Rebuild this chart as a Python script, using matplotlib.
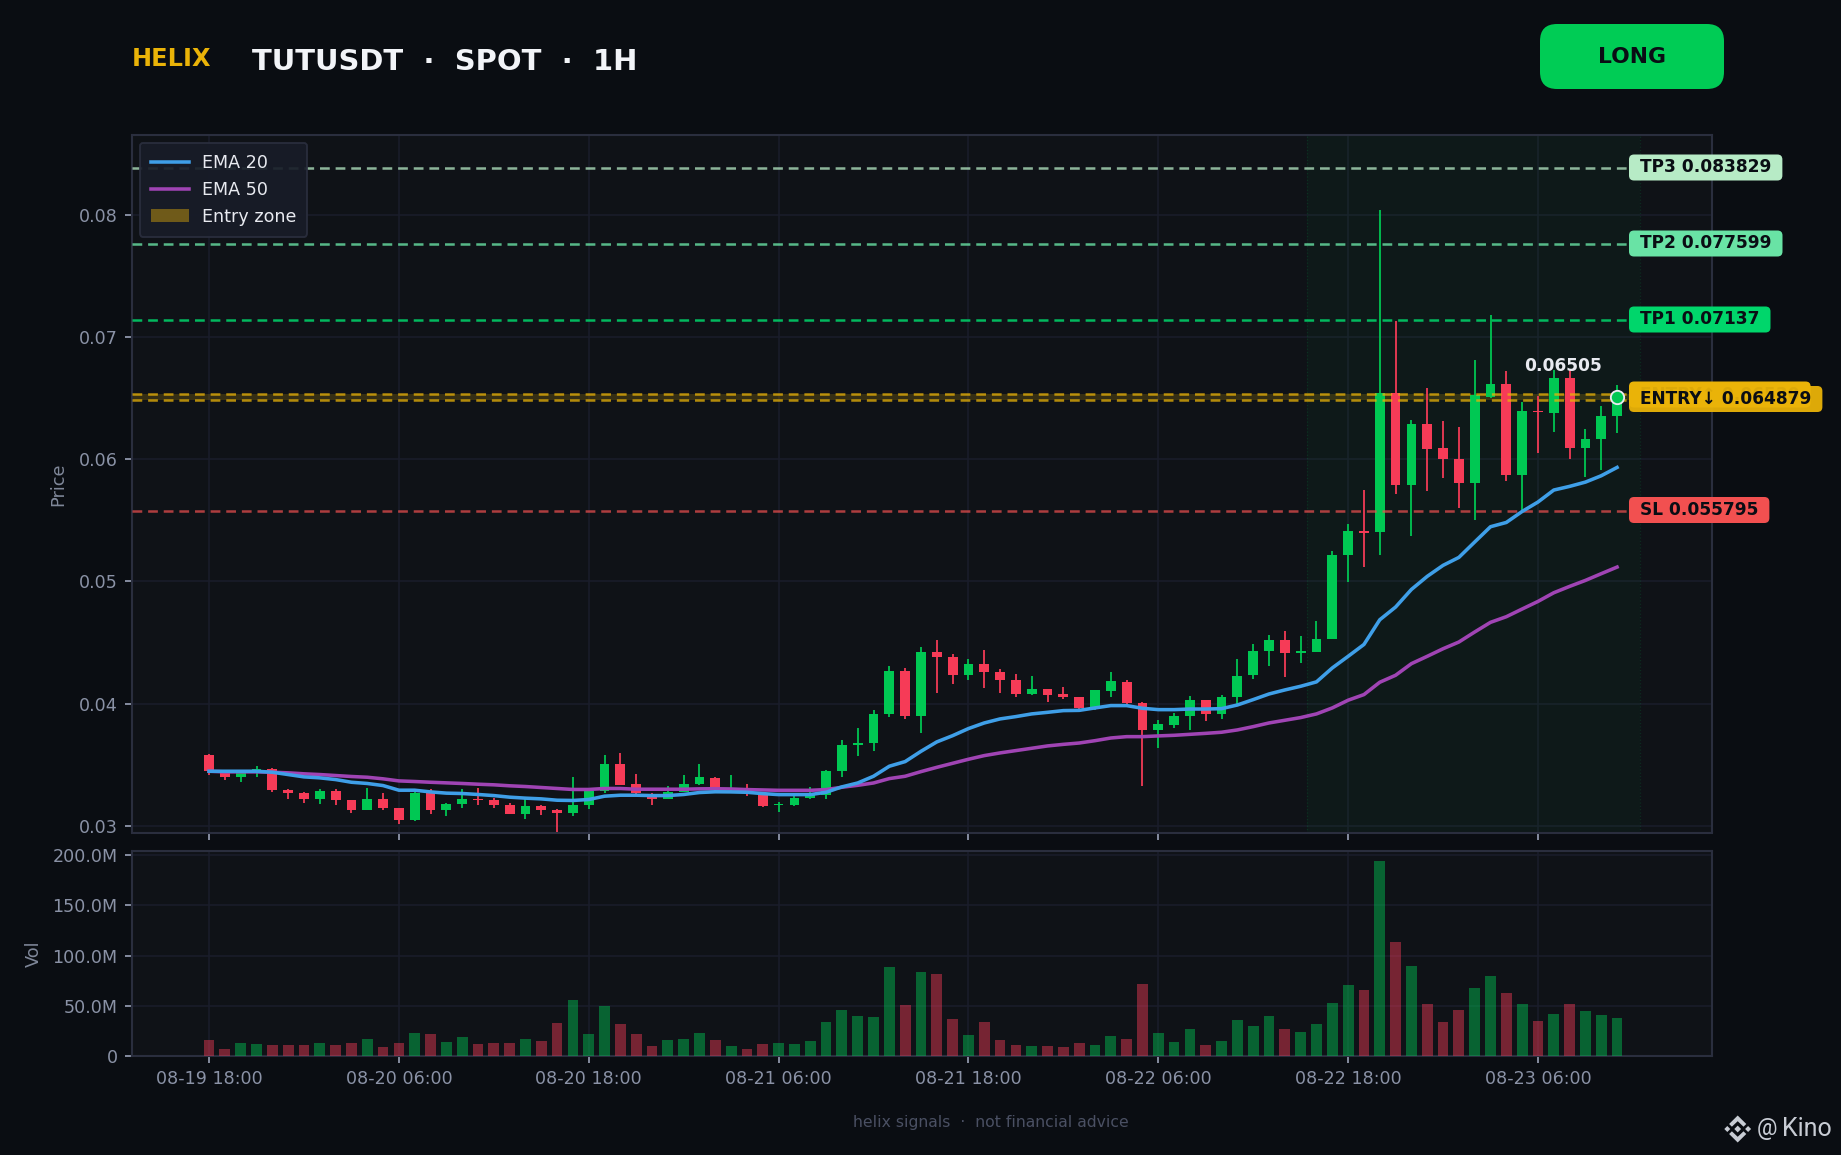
import matplotlib
matplotlib.use("Agg")
import numpy as np
import matplotlib.pyplot as plt
from matplotlib.patches import FancyBboxPatch, Polygon, Patch
from matplotlib.lines import Line2D
from matplotlib.transforms import IdentityTransform
from matplotlib.ticker import FuncFormatter

W, H = 1841, 1155
DPI = 150

opens = [.03577,.03443,.03397,.03440,.03470,.03293,.03266,.03217,.03290,.03209,
         .03127,.03217,.03151,.03053,.03274,.03127,.03184,.03217,.03209,.03176,
         .03102,.03160,.03135,.03110,.03176,.03290,.03511,.03347,.03250,.03225,
         .03282,.03347,.03396,.03296,.03298,.03265,.03170,.03175,.03232,.03257,
         .03453,.03666,.03682,.03919,.04271,.03903,.04426,.04385,.04238,.04328,
         .04263,.04197,.04083,.04124,.04083,.04058,.03968,.04107,.04181,.04009,
         .03788,.03829,.03903,.04034,.03920,.04059,.04238,.04435,.04525,.04418,
         .04427,.04533,.05219,.05415,.05407,.06544,.05791,.06290,.06094,.06004,
         .05808,.06511,.06617,.05873,.06397,.06380,.06667,.06094,.06168,.06356]
highs = [.03593,.03448,.03443,.03495,.03475,.03299,.03282,.03299,.03299,.03209,
         .03307,.03266,.03151,.03282,.03299,.03192,.03299,.03307,.03233,.03192,
         .03217,.03168,.03143,.03405,.03312,.03577,.03601,.03429,.03274,.03331,
         .03421,.03511,.03405,.03420,.03347,.03270,.03200,.03249,.03322,.03461,
         .03707,.03805,.03952,.04312,.04295,.04467,.04524,.04410,.04369,.04443,
         .04287,.04246,.04230,.04124,.04140,.04058,.04116,.04263,.04197,.04017,
         .03870,.03927,.04066,.04034,.04075,.04369,.04492,.04566,.04598,.04557,
         .04680,.05252,.05472,.05751,.08040,.07133,.06323,.06585,.06315,.06266,
         .06814,.07182,.06724,.06470,.06519,.06732,.06732,.06249,.06438,.06609]
lows = [.03416,.03375,.03358,.03399,.03277,.03217,.03192,.03184,.03176,.03110,
        .03127,.03127,.03020,.03045,.03102,.03078,.03151,.03176,.03151,.03102,
        .03061,.03094,.02950,.03078,.03143,.03274,.03339,.03250,.03176,.03217,
        .03282,.03339,.03287,.03268,.03249,.03159,.03118,.03167,.03224,.03224,
        .03404,.03576,.03617,.03895,.03878,.03764,.04091,.04165,.04197,.04132,
        .04091,.04058,.04075,.04017,.04042,.03952,.03952,.04058,.03985,.03330,
        .03641,.03805,.03788,.03862,.03879,.03993,.04206,.04312,.04222,.04337,
        .04427,.04532,.04998,.05121,.05219,.05718,.05374,.05742,.05849,.05603,
        .05505,.06503,.05824,.05587,.06053,.06225,.06004,.05857,.05914,.06217]
closes = [.03448,.03397,.03435,.03470,.03293,.03266,.03217,.03290,.03209,.03127,
          .03217,.03151,.03053,.03274,.03127,.03184,.03217,.03209,.03176,.03102,
          .03160,.03135,.03110,.03176,.03290,.03511,.03339,.03266,.03225,.03282,
          .03347,.03397,.03298,.03304,.03290,.03167,.03178,.03232,.03250,.03453,
          .03666,.03682,.03919,.04271,.03903,.04426,.04385,.04238,.04328,.04263,
          .04197,.04083,.04124,.04075,.04058,.03968,.04116,.04189,.04009,.03788,
          .03837,.03903,.04034,.03919,.04059,.04230,.04435,.04525,.04418,.04435,
          .04533,.05219,.05415,.05399,.06544,.05791,.06290,.06086,.06004,.05808,
          .06527,.06617,.05873,.06397,.06388,.06667,.06094,.06168,.06356,.06505]
ema20 = [.03448,.03448,.03448,.03448,.03440,.03421,.03402,.03394,.03380,.03358,
         .03348,.03331,.03293,.03293,.03279,.03269,.03266,.03258,.03249,.03236,
         .03228,.03222,.03211,.03209,.03217,.03244,.03252,.03252,.03249,.03249,
         .03258,.03274,.03280,.03279,.03276,.03265,.03257,.03257,.03257,.03276,
         .03320,.03352,.03407,.03489,.03527,.03611,.03688,.03739,.03797,.03843,
         .03876,.03895,.03917,.03930,.03944,.03946,.03966,.03985,.03985,.03963,
         .03952,.03952,.03957,.03957,.03960,.03990,.04034,.04080,.04113,.04143,
         .04179,.04293,.04388,.04485,.04687,.04791,.04935,.05042,.05132,.05197,
         .05323,.05448,.05483,.05573,.05650,.05748,.05778,.05813,.05865,.05933]
ema50 = [.03448,.03443,.03443,.03443,.03440,.03435,.03427,.03421,.03413,.03405,
         .03399,.03386,.03369,.03364,.03358,.03353,.03348,.03342,.03337,.03329,
         .03323,.03315,.03307,.03299,.03299,.03307,.03307,.03301,.03301,.03301,
         .03301,.03304,.03305,.03303,.03298,.03295,.03292,.03292,.03292,.03298,
         .03317,.03333,.03352,.03388,.03407,.03445,.03480,.03513,.03546,.03576,
         .03598,.03617,.03636,.03655,.03668,.03679,.03698,.03720,.03731,.03731,
         .03737,.03742,.03750,.03758,.03767,.03786,.03813,.03843,.03865,.03887,
         .03917,.03966,.04029,.04075,.04176,.04233,.04328,.04388,.04450,.04505,
         .04587,.04666,.04712,.04775,.04837,.04908,.04960,.05009,.05064,.05118]
volume = [15.6,6.6,12.6,11.6,10.6,10.6,10.6,12.6,10.6,12.6,
          16.6,8.6,12.6,22.6,21.6,13.6,18.6,11.6,12.6,12.6,
          16.6,14.6,32.6,55.5,21.6,49.5,31.6,21.6,9.6,15.6,
          16.6,22.6,15.6,9.6,6.6,11.6,12.6,11.6,14.6,33.6,
          45.5,39.5,38.5,88.4,50.5,83.4,81.4,36.5,20.6,33.6,
          15.6,10.6,9.6,9.6,8.6,12.6,10.6,19.6,16.6,71.4,
          22.6,13.6,26.6,10.6,14.6,35.5,29.6,39.5,26.6,23.6,
          31.6,52.5,70.4,65.4,194.4,113.3,89.4,51.5,33.6,45.5,
          67.4,79.4,62.5,51.5,34.6,41.5,51.5,44.5,40.5,37.5]

tick_pos = [0, 12, 24, 36, 48, 60, 72, 84]
tick_labels = ["08-19 18:00", "08-20 06:00", "08-20 18:00", "08-21 06:00",
               "08-21 18:00", "08-22 06:00", "08-22 18:00", "08-23 06:00"]
price_ticks = [0.03, 0.04, 0.05, 0.06, 0.07, 0.08]
vol_ticks = [0, 50, 100, 150, 200]

tp3, tp2, tp1 = 0.083829, 0.077599, 0.07137
sl = 0.055795
entry_low, entry_high = 0.064879, 0.0653
last_close = 0.06505

BG = "#0a0d12"
PANEL = "#0f1217"
GRID = "#1a1d2b"
SPINE = "#2a2e3e"
TICK = "#8a92a6"
LABEL = "#7f8799"
WHITE = "#e8eaf0"
GREEN = "#00c853"
RED = "#f63b57"
GOLD = "#eab308"
BLUE = "#3f9fe8"
PURPLE = "#a044b4"
DARK = "#0a0d14"

plt.rcParams["font.family"] = ["DejaVu Sans"]

fig = plt.figure(figsize=(W / DPI, H / DPI), dpi=DPI, facecolor=BG)


def axes_px(x0, y0, x1, y1):
    return fig.add_axes([x0 / W, 1 - y1 / H, (x1 - x0) / W, (y1 - y0) / H])


def px_box(x0, y0, x1, y1, color, radius, alpha=1.0, zorder=20):
    box = FancyBboxPatch((x0 + radius, H - y1 + radius), x1 - x0 - 2 * radius, y1 - y0 - 2 * radius,
                         boxstyle="round,pad=%f,rounding_size=%f" % (radius, radius),
                         transform=IdentityTransform(), facecolor=color, edgecolor="none",
                         alpha=alpha, zorder=zorder, clip_on=False)
    fig.add_artist(box)


def px_text(x, y, s, **kw):
    return fig.text(x / W, 1 - y / H, s, **kw)


ax = axes_px(132, 135, 1712, 832.5)
vol = axes_px(132, 851, 1712, 1056)

x = np.arange(len(closes))
up = np.array(closes) >= np.array(opens)
colors = [GREEN if u else RED for u in up]

for a in (ax, vol):
    a.set_facecolor(PANEL)
    a.set_xlim(-4.87, 95.0)
    a.set_xticks(tick_pos)
    a.grid(True, color=GRID, lw=0.75, zorder=0)
    a.set_axisbelow(True)
    a.tick_params(colors=TICK, labelsize=8.4, width=0.9, length=3.4)
    for s in a.spines.values():
        s.set_color(SPINE)
        s.set_linewidth(1.0)

# candles
ax.vlines(x, lows, highs, colors=colors, lw=0.85, zorder=3)
ax.bar(x, np.abs(np.array(closes) - np.array(opens)), bottom=np.minimum(opens, closes),
       width=0.62, color=colors, zorder=3.2)

ax.plot(x, ema20, color=BLUE, lw=1.7, zorder=5, label="EMA 20")
ax.plot(x, ema50, color=PURPLE, lw=1.7, zorder=4.9, label="EMA 50")

# active trade window
ax.axvspan(69.4, 90.45, color=GREEN, alpha=0.045, lw=0, zorder=1)
for xv in (69.4, 90.45):
    ax.axvline(xv, color=GREEN, alpha=0.14, lw=0.6, ls=":", zorder=1)

dash = (0, (3.9, 2.35))
ax.axhspan(entry_low, entry_high, color=GOLD, alpha=0.18, lw=0, zorder=2)
levels = [(tp3, "#b7ebc6", 0.75), (tp2, "#69e3a5", 0.8), (tp1, "#00d66b", 0.85),
          (entry_high, GOLD, 0.75), (entry_low, GOLD, 0.75), (sl, "#f25050", 0.7)]
for y, c, al in levels:
    ax.axhline(y, color=c, alpha=al, lw=1.2, ls=dash, zorder=4)

ax.plot([x[-1]], [last_close], "o", ms=6.4, mfc=GREEN, mec=WHITE, mew=0.9, zorder=7)
ax.text(85.6, 0.0676, "0.06505", color=WHITE, fontsize=8.2, fontweight="bold",
        ha="center", va="center", zorder=8)

ax.set_ylim(0.02947, 0.08652)
ax.set_yticks(price_ticks)
ax.set_yticklabels(["%.2f" % t for t in price_ticks])
ax.tick_params(axis="x", labelbottom=False)
ax.set_ylabel("Price", color=LABEL, fontsize=8.5)
ax.yaxis.set_label_coords((67 - 132) / 1580, 0.5)

handles = [Line2D([], [], color=BLUE, lw=1.7), Line2D([], [], color=PURPLE, lw=1.7),
           Patch(facecolor=GOLD, alpha=0.42, edgecolor="none")]
leg = ax.legend(handles, ["EMA 20", "EMA 50", "Entry zone"], loc="upper left",
                bbox_to_anchor=(0.0, 1.0), fontsize=8.4, labelcolor=WHITE,
                facecolor="#181c28", edgecolor=SPINE, framealpha=0.92,
                borderaxespad=0.45, borderpad=0.64, handlelength=2.15, handletextpad=0.75)
leg.set_zorder(10)
leg.get_frame().set_linewidth(0.9)

# volume panel
vol.bar(x, volume, width=0.68, color=colors, alpha=0.45, zorder=3)
vol.set_ylim(0, 204)
vol.set_yticks(vol_ticks)
vol.yaxis.set_major_formatter(FuncFormatter(lambda v, p: "0" if v == 0 else "%.1fM" % v))
vol.set_xticklabels(tick_labels)
vol.set_ylabel("Vol", color=LABEL, fontsize=8.5)
vol.yaxis.set_label_coords((42.5 - 132) / 1580, 0.5)

# level tags on the right
tags = [("TP3 0.083829", 167.5, "#b7ebc6", 1.0),
        ("TP2 0.077599", 243.5, "#69e3a5", 1.0),
        ("TP1 0.07137", 319.5, "#00d66b", 1.0),
        ("ENTRY↑ 0.06530", 394.5, GOLD, 1.0),
        ("ENTRY↓ 0.064879", 399, GOLD, 0.95),
        ("SL 0.055795", 510, "#f25050", 1.0)]
renderer = fig.canvas.get_renderer()
for i, (s, yc, c, al) in enumerate(tags):
    t = px_text(1640, yc, s, color=DARK, fontsize=8.2, fontweight="bold", va="center", zorder=21 + i * 2)
    w = t.get_window_extent(renderer).width
    px_box(1629, yc - 13, 1640 + w + 11, yc + 13, c, 5, alpha=al, zorder=20 + i * 2)

# header
px_text(132, 59, "HELIX", color=GOLD, fontsize=11.5, fontweight="bold", va="center")
px_text(252, 61.5, "TUTUSDT  ·  SPOT  ·  1H", color="#f2f4f8", fontsize=13.9, fontweight="bold", va="center")
px_box(1540, 24, 1724, 89, "#00cc55", 17, zorder=5)
px_text(1632, 57, "LONG", color=DARK, fontsize=10.5, fontweight="bold", ha="center", va="center", zorder=6)

# footer
px_text(991, 1122, "helix signals  ·  not financial advice", color="#4a5063", fontsize=7.5,
        ha="center", va="center")
px_text(1757, 1129, "@", color="#c8ccd4", fontsize=11, family="Roboto", va="center")
px_text(1782, 1129, "Kino", color="#c8ccd4", fontsize=12, family="Roboto", va="center")

# watermark logo
cx, cy = 1737.7, H - 1129
logo = [[(0, 3.4), (3.4, 0), (0, -3.4), (-3.4, 0)],
        [(-10.4, 3), (-7.4, 0), (-10.4, -3), (-13.4, 0)],
        [(10.4, 3), (13.4, 0), (10.4, -3), (7.4, 0)],
        [(0, 13.5), (8.6, 5), (5.8, 2.3), (0, 7.8), (-5.8, 2.3), (-8.6, 5)],
        [(0, -13.5), (8.6, -5), (5.8, -2.3), (0, -7.8), (-5.8, -2.3), (-8.6, -5)]]
for pts in logo:
    fig.add_artist(Polygon([(cx + a, cy + b) for a, b in pts], closed=True, facecolor="#c8ccd4",
                           edgecolor="none", transform=IdentityTransform()))

fig.savefig("out.png", dpi=DPI, facecolor=BG)
